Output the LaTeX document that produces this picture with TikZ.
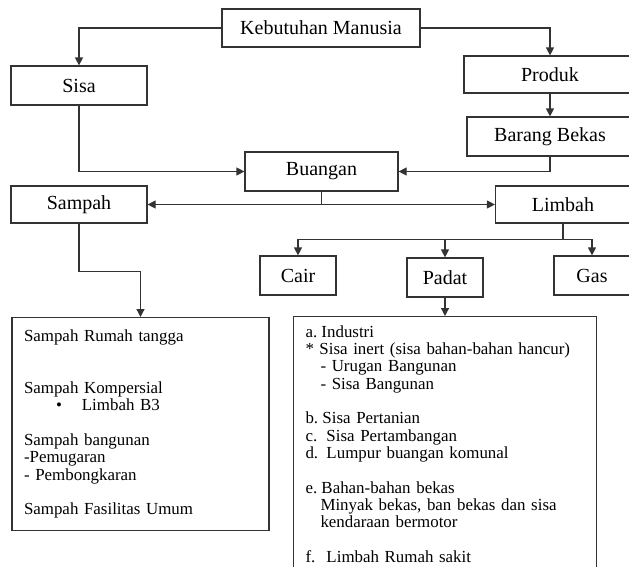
\documentclass[tikz,border=0pt]{standalone}
\usepackage{fontspec}
\setmainfont{Liberation Serif}
\usetikzlibrary{arrows.meta}

\begin{document}
\begin{tikzpicture}[
    x=1pt, y=-1pt,
    box/.style={
        rectangle,
        draw=black!80,
        line width=1.2pt,
        minimum height=38pt,
        inner sep=0pt,
        font=\fontsize{20}{24}\selectfont
    },
    listbox/.style={
        rectangle,
        draw=black!80,
        line width=1.2pt,
        anchor=north,
        align=left,
        inner xsep=12pt,
        inner ysep=10pt,
        font=\fontsize{16.9}{17.3}\selectfont
    },
    arrow/.style={
        -{Triangle[length=8pt,width=8pt]},
        line width=1.2pt,
        draw=black!80
    },
    line/.style={
        line width=1.2pt,
        draw=black!80
    }
]

% Batas gambar
\clip (0,0) rectangle (629,566);

% Kebutuhan, Sisa, Produk
\node[box, minimum width=198pt] (kebutuhan) at (321,28) {Kebutuhan Manusia};
\node[box, minimum width=136pt, minimum height=39pt] (sisa) at (79,85.5) {Sisa};
\node[box, minimum width=172pt, minimum height=37pt] (produk) at (550,74.5) {Produk};
\node[box, minimum width=166pt, minimum height=39pt] (barang) at (550,136.5) {Barang Bekas};

% Buangan
\node[box, minimum width=153pt, minimum height=39pt] (buangan) at (321.5,171.5) {Buangan};
\node[box, minimum width=136pt, minimum height=37pt] (sampah) at (79,204.5) {Sampah};
\node[box, minimum width=135pt, minimum height=37pt] (limbah) at (563,204.5) {Limbah};

% Jenis limbah
\node[box, minimum width=76pt, minimum height=39pt] (cair) at (298,275.5) {Cair};
\node[box, minimum width=76pt, minimum height=39pt] (padat) at (445,277.5) {Padat};
\node[box, minimum width=76pt, minimum height=39pt] (gas) at (592,275.5) {Gas};

% Rincian sampah
\node[listbox, text width=233pt, minimum height=213pt] (listsampah) at (140.5,317) {
    Sampah Rumah tangga\\[34.6pt]
    Sampah Kompersial\\
    \hspace*{32pt}\textbullet\hspace{20pt}Limbah B3\\[17.3pt]
    Sampah bangunan\\
    -Pemugaran\\
    - Pembongkaran\\[17.3pt]
    Sampah Fasilitas Umum
};

% Rincian limbah padat
\node[listbox, text width=279pt, inner ysep=9pt] (listlimbah) at (445,316) {
    \makebox[16pt][l]{a.}Industri\\
    \makebox[14pt][l]{*}Sisa inert (sisa bahan-bahan hancur)\\
    \hspace*{15pt}- Urugan Bangunan\\
    \hspace*{15pt}- Sisa Bangunan\\[17.3pt]
    \makebox[17pt][l]{b.}Sisa Pertanian\\
    \makebox[21pt][l]{c.}Sisa Pertambangan\\
    \makebox[21pt][l]{d.}Lumpur buangan komunal\\[17.3pt]
    \makebox[16pt][l]{e.}Bahan-bahan bekas\\
    \hspace*{15pt}Minyak bekas, ban bekas dan sisa\\
    \hspace*{15pt}kendaraan bermotor\\[17.3pt]
    \makebox[21pt][l]{f.}Limbah Rumah sakit
};

% Garis penghubung
\draw[arrow] (kebutuhan.west) -| (sisa.north);
\draw[arrow] (kebutuhan.east) -| (produk.north);
\draw[arrow] (produk) -- (barang);
\draw[arrow] (sisa.south) |- (buangan.west);
\draw[arrow] (barang.south) |- (buangan.east);

\coordinate (cabang) at (buangan.south |- sampah.east);
\draw[line] (buangan.south) -- (cabang);
\draw[arrow] (cabang) -- (sampah.east);
\draw[arrow] (cabang) -- (limbah.west);

\draw[line] (limbah.south) -- ++(0,16) coordinate (cabanglimbah);
\draw[arrow] (cabanglimbah) -| (cair.north);
\draw[arrow] (cabanglimbah) -| (padat.north);
\draw[arrow] (cabanglimbah) -| (gas.north);

\draw[arrow] (sampah.south) -- ++(0,48) -| (listsampah.north);
\draw[arrow] (padat) -- (listlimbah);

\end{tikzpicture}
\end{document}
